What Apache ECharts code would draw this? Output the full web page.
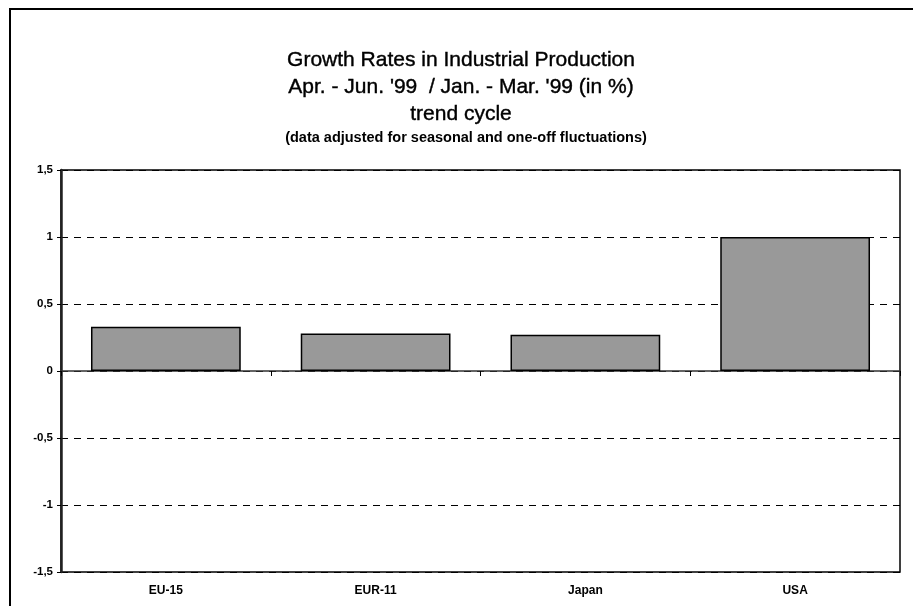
<!DOCTYPE html>
<html>
<head>
<meta charset="utf-8">
<script src="https://cdn.jsdelivr.net/npm/echarts@6/dist/echarts.min.js"></script>
<style>
  html, body { margin: 0; padding: 0; background: #fff; }
  #chart { width: 913px; height: 606px; }
</style>
</head>
<body>
<div id="chart"></div>
<script>
// Quarter-on-quarter growth of industrial production, trend cycle (%)
const categories = ['EU-15', 'EUR-11', 'Japan', 'USA'];
const growth = [0.33, 0.28, 0.27, 1.0];

const titleLines = [
  'Growth Rates in Industrial Production',
  "Apr. - Jun. '99  / Jan. - Mar. '99 (in %)",
  'trend cycle'
];
const noteLine = '(data adjusted for seasonal and one-off fluctuations)';

const yMin = -1.5, yMax = 1.5, yStep = 0.5;

const font = 'Arial, "Liberation Sans", Helvetica, sans-serif';
const chart = echarts.init(document.getElementById('chart'));

chart.setOption({
  animation: false,
  backgroundColor: '#fff',
  graphic: [
    {
      type: 'rect',
      shape: { x: 10, y: 9, width: 920, height: 620 },
      style: { fill: 'none', stroke: '#000', lineWidth: 2 },
      z: 0
    },
    ...titleLines.map((t, i) => ({
      type: 'text',
      x: 461, y: 60 + i * 27,
      style: {
        text: t, fill: '#000', align: 'center', verticalAlign: 'middle',
        font: 'normal 21px ' + font, stroke: '#000', lineWidth: 0.4
      }
    })),
    {
      type: 'text',
      x: 466, y: 138,
      style: {
        text: noteLine, fill: '#000', align: 'center', verticalAlign: 'middle',
        font: 'bold 14.5px ' + font
      }
    }
  ],
  grid: {
    left: 61, right: 13, top: 170, bottom: 34,
    show: true, borderColor: '#000', borderWidth: 1.5, backgroundColor: '#fff'
  },
  xAxis: [
    {
      type: 'category',
      data: categories,
      axisLine: { onZero: true, lineStyle: { color: '#333', width: 1.5 } },
      axisTick: { show: true, length: 5, lineStyle: { color: '#000' } },
      axisLabel: { show: false }
    },
    {
      type: 'category',
      data: categories,
      position: 'bottom',
      axisLine: { show: false, onZero: false },
      axisTick: { show: false },
      axisLabel: {
        color: '#000', fontWeight: 'bold', fontSize: 12, fontFamily: font, margin: 13
      }
    }
  ],
  yAxis: {
    type: 'value',
    min: yMin, max: yMax, interval: yStep,
    axisLine: { show: true, lineStyle: { color: '#222', width: 2.5 } },
    axisTick: { show: true, length: 4, lineStyle: { color: '#000' } },
    axisLabel: {
      color: '#000', fontWeight: 'bold', fontSize: 11.5, fontFamily: font, margin: 8,
      formatter: v => String(v).replace('.', ',')
    },
    splitLine: { show: true, lineStyle: { color: '#000', type: [7, 6], width: 1 } }
  },
  series: [
    {
      type: 'bar',
      data: growth,
      barCategoryGap: '28.6%',
      itemStyle: { color: '#999999', borderColor: '#000', borderWidth: 1.5 }
    }
  ]
});
</script>
</body>
</html>
